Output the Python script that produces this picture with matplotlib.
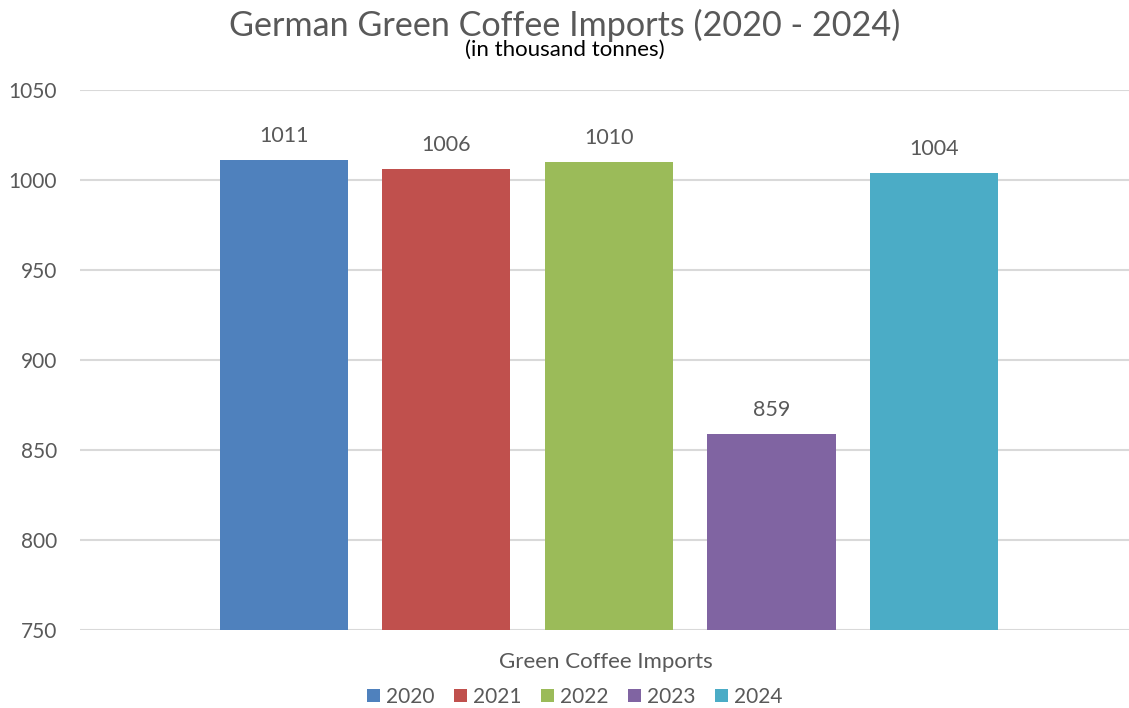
import matplotlib.pyplot as plt

# German green coffee imports, thousand tonnes
years = ["2020", "2021", "2022", "2023", "2024"]
imports = [1011, 1006, 1010, 859, 1004]
colors = ["#4F81BD", "#C0504D", "#9BBB59", "#8064A2", "#4BACC6"]

plt.rcParams['font.family'] = ['Lato', 'DejaVu Sans']
txt = "#595959"

fig = plt.figure(figsize=(11.29, 7.08), dpi=100)
ax = fig.add_axes([80 / 1129, 78 / 708, 1049 / 1129, 540 / 708])

pos = range(len(years))
bars = ax.bar(pos, imports, width=0.788, color=colors, zorder=2, label=years)
for b, v in zip(bars, imports):
    ax.annotate(str(v), (b.get_x() + b.get_width() / 2, v), xytext=(0, 10),
                textcoords="offset points", ha="center", va="bottom",
                fontsize=15.5, color=txt)

ax.set_ylim(750, 1050)
ax.set_yticks(range(750, 1051, 50))
ax.set_xlim(-1.255, 5.2)
ax.set_xticks([])
ax.grid(axis="y", color="#D9D9D9", linewidth=1.5, zorder=0)
for s in ax.spines.values():
    s.set_visible(False)
ax.tick_params(axis="y", length=0, labelsize=15, labelcolor=txt, pad=16.5)

fig.text(0.5, 1 - 25 / 708, "German Green Coffee Imports (2020 - 2024)",
         ha="center", va="center", fontsize=24.6, color=txt)
fig.text(0.5, 1 - 50 / 708, "(in thousand tonnes)", ha="center", va="center",
         fontsize=16, color="black")
fig.text(606 / 1129, 1 - 662 / 708, "Green Coffee Imports", ha="center",
         va="center", fontsize=16, color=txt)

fig.legend(handles=bars, labels=years, loc="center", ncol=5,
           bbox_to_anchor=(575 / 1129, 1 - 697 / 708), frameon=False,
           fontsize=15, labelcolor=txt, handlelength=0.6, handleheight=0.6,
           handletextpad=0.3, columnspacing=0.95)

fig.savefig("out.png", dpi=100)
